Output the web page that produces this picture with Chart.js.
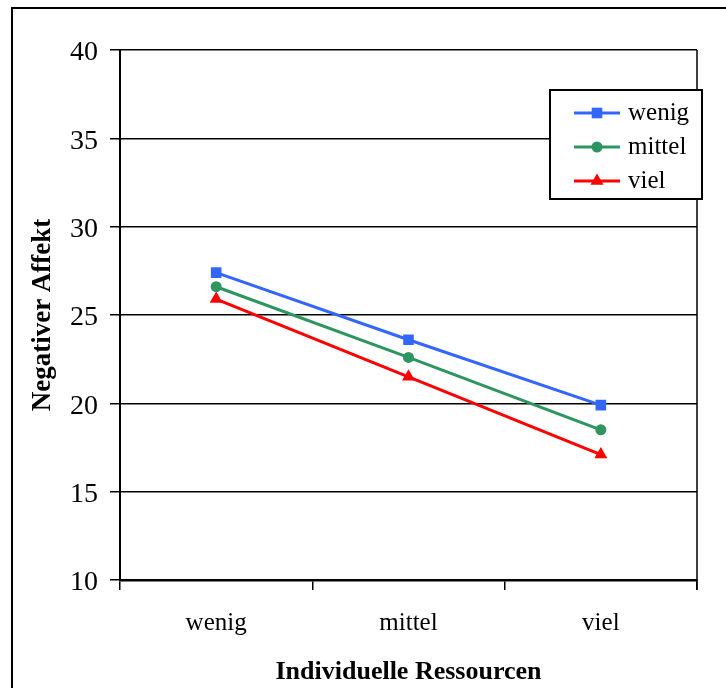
<!DOCTYPE html>
<html>
<head>
<meta charset="utf-8">
<script src="https://cdn.jsdelivr.net/npm/chart.js@4/dist/chart.umd.min.js"></script>
<style>
  body { margin: 0; background: #fff; }
  #wrap { width: 726px; height: 688px; }
</style>
</head>
<body>
<div id="wrap"><canvas id="c" width="726" height="688"></canvas></div>
<script>
const categories = ['wenig', 'mittel', 'viel'];
const seriesNames = ['wenig', 'mittel', 'viel'];
const wenigValues = [27.4, 23.6, 19.9];
const mittelValues = [26.6, 22.6, 18.5];
const vielValues = [25.9, 21.5, 17.1];
const yTicks = [10, 15, 20, 25, 30, 35, 40];

const serif = "'Liberation Serif', 'Times New Roman', serif";

// outer frame (only top/left visible) + plot right border
const framePlugin = {
    id: 'frame',
    beforeDraw(chart) {
        const ctx = chart.ctx;
        ctx.save();
        ctx.fillStyle = '#fff';
        ctx.fillRect(0, 0, chart.width, chart.height);
        ctx.strokeStyle = '#000';
        ctx.lineWidth = 2;
        ctx.beginPath();
        ctx.moveTo(12, chart.height + 5);
        ctx.lineTo(12, 8);
        ctx.lineTo(chart.width + 5, 8);
        ctx.stroke();
        ctx.restore();
    },
    afterDraw(chart) {
        const ctx = chart.ctx;
        const a = chart.chartArea;
        ctx.save();
        ctx.strokeStyle = '#000';
        ctx.lineWidth = 1.5;
        ctx.beginPath();
        ctx.moveTo(a.right, a.top);
        ctx.lineTo(a.right, a.bottom + 10);
        ctx.stroke();
        ctx.restore();
    }
};

// legend box drawn inside the plot, like the original
const boxLegend = {
    id: 'boxLegend',
    afterDraw(chart) {
        const ctx = chart.ctx;
        const x = 550, y = 90, w = 152, h = 109;
        ctx.save();
        ctx.fillStyle = '#fff';
        ctx.fillRect(x, y, w, h);
        ctx.strokeStyle = '#000';
        ctx.lineWidth = 2;
        ctx.strokeRect(x, y, w, h);
        chart.data.datasets.forEach((ds, i) => {
            const cy = 113 + i * 34;
            ctx.strokeStyle = ds.borderColor;
            ctx.lineWidth = 3;
            ctx.beginPath();
            ctx.moveTo(574, cy);
            ctx.lineTo(620, cy);
            ctx.stroke();
            ctx.fillStyle = ds.borderColor;
            Chart.helpers.drawPoint(ctx, {
                pointStyle: ds.pointStyle,
                radius: ds.pointRadius,
                borderWidth: 0
            }, 597, cy);
            ctx.fillStyle = '#000';
            ctx.font = '25px ' + serif;
            ctx.textBaseline = 'middle';
            ctx.textAlign = 'left';
            ctx.fillText(ds.label, 628, cy);
        });
        ctx.restore();
    }
};

const makeSet = (label, data, color, style, r) => ({
    label: label,
    data: data,
    borderColor: color,
    backgroundColor: color,
    borderWidth: 3,
    pointStyle: style,
    pointRadius: r,
    pointBorderWidth: 0,
    pointBackgroundColor: color,
    tension: 0
});

new Chart(document.getElementById('c').getContext('2d'), {
    type: 'line',
    data: {
        labels: categories,
        datasets: [
            makeSet(seriesNames[0], wenigValues, '#3366ff', 'rect', 7.5),
            makeSet(seriesNames[1], mittelValues, '#2e9560', 'circle', 5.5),
            makeSet(seriesNames[2], vielValues, '#ff0000', 'triangle', 7.5)
        ]
    },
    options: {
        responsive: false,
        animation: false,
        layout: { padding: { top: 50, right: 29, left: 0, bottom: 0 } },
        plugins: {
            legend: { display: false },
            tooltip: { enabled: false }
        },
        scales: {
            x: {
                offset: true,
                afterFit: (scale) => { scale.height = 108; },
                grid: {
                    offset: true,
                    drawOnChartArea: false,
                    drawTicks: true,
                    tickLength: 10,
                    color: '#000',
                    lineWidth: 1.5
                },
                border: { display: true, color: '#000', width: 2.5 },
                ticks: {
                    color: '#000',
                    padding: 18,
                    font: { family: serif, size: 25 }
                },
                title: {
                    display: true,
                    text: 'Individuelle Ressourcen',
                    color: '#000',
                    padding: { top: 0, bottom: 0 },
                    font: { family: serif, size: 26, weight: 'bold' }
                }
            },
            y: {
                min: 10,
                max: 40,
                afterFit: (scale) => { scale.width = 120; },
                afterBuildTicks: (scale) => { scale.ticks = yTicks.map(v => ({ value: v })); },
                grid: {
                    color: '#000',
                    lineWidth: 1.5,
                    drawTicks: true,
                    tickLength: 10
                },
                border: { display: true, color: '#000', width: 2 },
                ticks: {
                    color: '#000',
                    padding: 12,
                    labelOffset: 3,
                    font: { family: serif, size: 28 }
                },
                title: {
                    display: true,
                    text: 'Negativer Affekt',
                    color: '#000',
                    padding: { top: 27, bottom: 0 },
                    font: { family: serif, size: 27, weight: 'bold' }
                }
            }
        }
    },
    plugins: [framePlugin, boxLegend]
});
</script>
</body>
</html>
